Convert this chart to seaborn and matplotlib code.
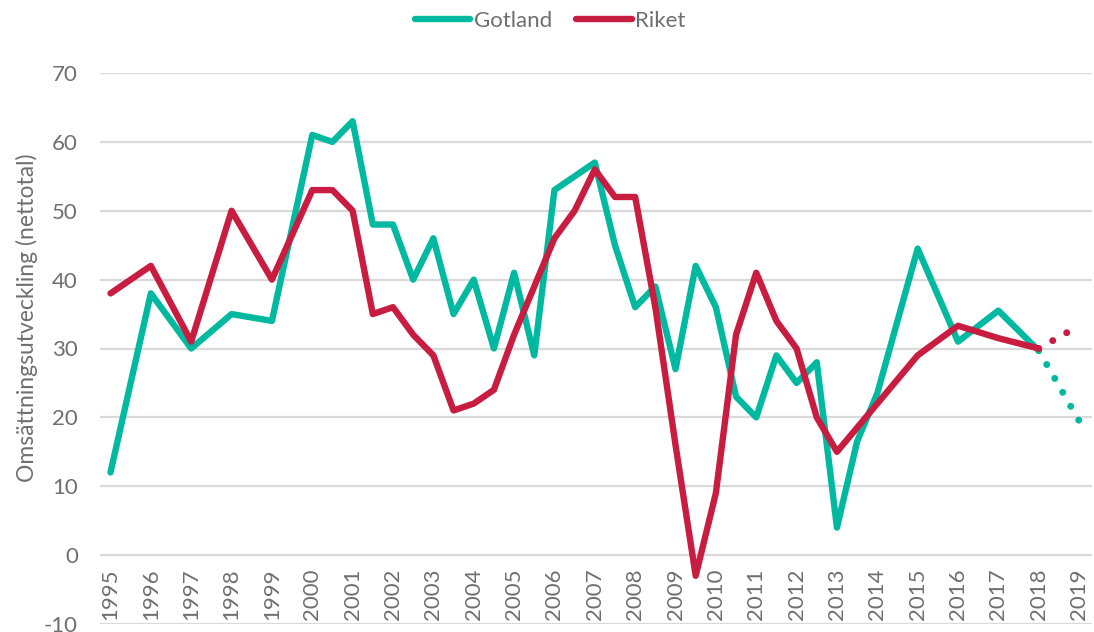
import matplotlib
matplotlib.use("Agg")
import matplotlib.pyplot as plt
import numpy as np
import pandas as pd
import seaborn as sns

# Gotland: yearly to 2000, half-yearly 2000-2013, then yearly
gotland_years = [1995, 1996, 1997, 1998, 1999, 2000, 2000.5, 2001, 2001.5, 2002,
                 2002.5, 2003, 2003.5, 2004, 2004.5, 2005, 2005.5, 2006, 2007, 2007.5,
                 2008, 2008.5, 2009, 2009.5, 2010, 2010.5, 2011, 2011.5, 2012, 2012.5,
                 2013, 2013.5, 2014, 2015, 2016, 2017, 2018]
gotland_values = [12, 38, 30, 35, 34, 61, 60, 63, 48, 48,
                  40, 46, 35, 40, 30, 41, 29, 53, 57, 45,
                  36, 39, 27, 42, 36, 23, 20, 29, 25, 28,
                  4, 16.5, 23.5, 44.5, 31, 35.5, 29.7]

riket_years = [1995, 1996, 1997, 1998, 1999, 2000, 2000.5, 2001, 2001.5, 2002,
               2002.5, 2003, 2003.5, 2004, 2004.5, 2005, 2005.5, 2006, 2006.5, 2007,
               2007.5, 2008, 2008.5, 2009, 2009.5, 2010, 2010.5, 2011, 2011.5, 2012,
               2012.5, 2013, 2014, 2015, 2016, 2017, 2018]
riket_values = [38, 42, 31, 50, 40, 53, 53, 50, 35, 36,
                32, 29, 21, 22, 24, 32, 39, 46, 50, 56,
                52, 52, 36, 16, -3, 9, 32, 41, 34, 30,
                20, 15, 22, 29, 33.3, 31.5, 30]

# prognos 2018 -> 2019 (prickad)
forecast_years = [2018, 2019]
gotland_forecast = [29.7, 19.5]
riket_forecast = [30, 33.3]

tick_years = list(range(1995, 2020))
y_ticks = list(range(-10, 80, 10))

series = ["Gotland", "Riket"]
colors = {"Gotland": "#00B9A0", "Riket": "#C81D41"}
grey = "#6F6F6F"

df = pd.concat([
    pd.DataFrame({"år": gotland_years, "värde": gotland_values, "serie": "Gotland"}),
    pd.DataFrame({"år": riket_years, "värde": riket_values, "serie": "Riket"}),
])
fc = pd.concat([
    pd.DataFrame({"år": forecast_years, "värde": gotland_forecast, "serie": "Gotland"}),
    pd.DataFrame({"år": forecast_years, "värde": riket_forecast, "serie": "Riket"}),
])

sns.set_theme(style="white")
plt.rcParams["font.family"] = ["Lato", "DejaVu Sans"]
plt.rcParams["axes.unicode_minus"] = False

fig = plt.figure(figsize=(10.94, 6.32), dpi=100)
ax = fig.add_axes([100 / 1094, 8 / 632, 992 / 1094, 551 / 632])

sns.lineplot(data=df, x="år", y="värde", hue="serie", hue_order=series, palette=colors,
             lw=4.6, solid_capstyle="round", solid_joinstyle="round", ax=ax,
             sort=False, estimator=None, zorder=3)
n_before = len(ax.lines)
sns.lineplot(data=fc, x="år", y="värde", hue="serie", hue_order=series, palette=colors,
             lw=5, ax=ax, sort=False, estimator=None, legend=False, zorder=3)
for line in ax.lines[n_before:]:
    line.set_linestyle((0, (0.01, 2.3)))
    line.set_dash_capstyle("round")

ax.set_xlim(1994.74, 2019.32)
ax.set_ylim(-10, 70)
ax.set_yticks(y_ticks)
ax.set_xticks(tick_years, labels=[str(y) for y in tick_years], rotation=90, va="bottom")
ax.tick_params(axis="x", length=0, pad=-3, labelsize=16, labelcolor=grey)
ax.tick_params(axis="y", length=0, pad=16, labelsize=16, labelcolor=grey)
ax.grid(axis="y", color="#D9D9D9", lw=1.6)
ax.grid(axis="x", visible=False)
for s in ax.spines.values():
    s.set_visible(False)

ax.set_xlabel("")
ax.set_ylabel("Omsättningsutveckling (nettotal)", fontsize=16.5, color=grey)
ax.yaxis.set_label_coords(-0.063, 0.555)

handles, labels = ax.get_legend_handles_labels()
ax.legend(handles, labels, loc="center", bbox_to_anchor=(0.503, 0.967),
          bbox_transform=fig.transFigure, ncol=2, frameon=False, fontsize=16,
          handlelength=2.5, handletextpad=0.15, columnspacing=1.1, labelcolor=grey)

fig.savefig("out.png", dpi=100)
